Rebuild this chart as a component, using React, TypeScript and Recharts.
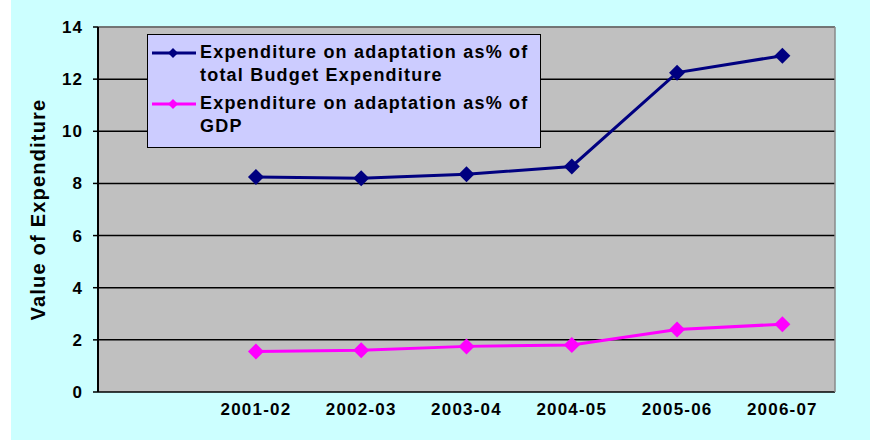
import React from "react";
import {
  LineChart,
  Line,
  XAxis,
  YAxis,
  CartesianGrid,
  ReferenceLine,
  Legend,
} from "recharts";

const years = ["2001-02", "2002-03", "2003-04", "2004-05", "2005-06", "2006-07"];
const categories = ["", ...years];
const budgetShare = [8.25, 8.2, 8.35, 8.65, 12.25, 12.9];
const gdpShare = [1.55, 1.6, 1.75, 1.8, 2.4, 2.6];
const yTicks = [0, 2, 4, 6, 8, 10, 12, 14];
const seriesNames = [
  "Expenditure on adaptation as% of total Budget Expenditure",
  "Expenditure on adaptation as% of GDP",
];
const legendLines = [
  ["Expenditure on adaptation as% of", "total Budget Expenditure"],
  ["Expenditure on adaptation as% of", "GDP"],
];
const seriesColors = ["#000080", "#FF00FF"];

const data = years.map((y, i) => ({
  x: i + 1.5,
  year: y,
  budget: budgetShare[i],
  gdp: gdpShare[i],
}));

const boundaryTicks = categories.map((_, i) => i).concat([categories.length]);
const centerTicks = categories.map((_, i) => i + 0.5);

const FONT = "Arial, 'Liberation Sans', sans-serif";

const makeDiamond = (color: string, r: number) => (props: any) => {
  const { cx, cy, index } = props;
  if (cx == null || cy == null) return <g key={index} />;
  return (
    <path
      key={index}
      d={`M${cx},${cy - r}L${cx + r},${cy}L${cx},${cy + r}L${cx - r},${cy}Z`}
      fill={color}
    />
  );
};

const LegendBox = () => (
  <div
    style={{
      boxSizing: "border-box",
      width: 394,
      height: 114,
      border: "1.5px solid #000",
      background: "#CCCCFF",
      paddingTop: 6,
      fontFamily: FONT,
      fontWeight: "bold",
      fontSize: 18,
      letterSpacing: 1.2,
      color: "#000",
      textAlign: "left",
    }}
  >
    {legendLines.map((lines, i) => (
      <div key={i} style={{ position: "relative", height: 46, marginBottom: i === 0 ? 5 : 0 }}>
        <svg
          width={44}
          height={23}
          style={{ position: "absolute", left: 4, top: 0 }}
        >
          <line x1={0} y1={12} x2={44} y2={12} stroke={seriesColors[i]} strokeWidth={3} />
          <path d="M21,7L26,12L21,17L16,12Z" fill={seriesColors[i]} />
        </svg>
        <div style={{ position: "absolute", left: 52, top: 0, lineHeight: "23px", whiteSpace: "nowrap" }}>
          {lines.map((t, j) => (
            <div key={j}>{t}</div>
          ))}
        </div>
      </div>
    ))}
  </div>
);

const YLabel = (props: any) => {
  const { viewBox } = props;
  const cx = viewBox.x + 11;
  const cy = viewBox.y + viewBox.height / 2;
  return (
    <text
      x={cx}
      y={cy}
      transform={`rotate(-90 ${cx} ${cy})`}
      textAnchor="middle"
      dominantBaseline="central"
      style={{ fontFamily: FONT, fontWeight: "bold", fontSize: 20, letterSpacing: 1.2, fill: "#000" }}
    >
      Value of Expenditure
    </text>
  );
};

export default function App() {
  return (
    <div
      style={{
        position: "absolute",
        left: 11,
        top: 0,
        width: 859,
        height: 440,
        background: "#CCFFFF",
      }}
    >
      <LineChart
        width={859}
        height={440}
        data={data}
        margin={{ top: 27, right: 35, bottom: 18, left: 16 }}
      >
        <CartesianGrid
          xAxisId="marks"
          vertical={false}
          fill="#C0C0C0"
          fillOpacity={1}
          stroke="#000"
          strokeWidth={1.5}
        />
        <XAxis
          xAxisId="marks"
          type="number"
          dataKey="x"
          domain={[0, categories.length]}
          ticks={boundaryTicks}
          interval={0}
          height={0}
          tickSize={6}
          tickFormatter={() => ""}
          axisLine={{ stroke: "#000", strokeWidth: 2 }}
          tickLine={{ stroke: "#000", strokeWidth: 1.5 }}
        />
        <XAxis
          xAxisId="labels"
          type="number"
          dataKey="x"
          domain={[0, categories.length]}
          ticks={centerTicks}
          interval={0}
          height={30}
          axisLine={false}
          tickLine={false}
          tickMargin={5}
          tickFormatter={(v: number) => categories[Math.floor(v)]}
          tick={{ fill: "#000", fontFamily: FONT, fontWeight: "bold", fontSize: 17, letterSpacing: 1.2 }}
        />
        <YAxis
          domain={[0, 14]}
          ticks={yTicks}
          interval={0}
          width={71}
          tickSize={5}
          tickMargin={10}
          axisLine={{ stroke: "#000", strokeWidth: 2 }}
          tickLine={{ stroke: "#000", strokeWidth: 1.5 }}
          tick={{ fill: "#000", fontFamily: FONT, fontWeight: "bold", fontSize: 17, letterSpacing: 1 }}
          label={{ content: YLabel }}
        />
        <ReferenceLine xAxisId="marks" y={14} stroke="#8A8A8A" strokeWidth={1.5} />
        <ReferenceLine xAxisId="marks" x={categories.length} stroke="#8A8A8A" strokeWidth={1.5} />
        <Legend
          layout="vertical"
          align="center"
          verticalAlign="middle"
          content={() => <LegendBox />}
          wrapperStyle={{ position: "absolute", left: 136, top: 34, width: 394, height: 114 }}
        />
        <Line
          xAxisId="marks"
          type="linear"
          dataKey="budget"
          name={seriesNames[0]}
          stroke={seriesColors[0]}
          strokeWidth={3}
          dot={makeDiamond(seriesColors[0], 8)}
          activeDot={false}
          isAnimationActive={false}
        />
        <Line
          xAxisId="marks"
          type="linear"
          dataKey="gdp"
          name={seriesNames[1]}
          stroke={seriesColors[1]}
          strokeWidth={3}
          dot={makeDiamond(seriesColors[1], 8)}
          activeDot={false}
          isAnimationActive={false}
        />
      </LineChart>
    </div>
  );
}
